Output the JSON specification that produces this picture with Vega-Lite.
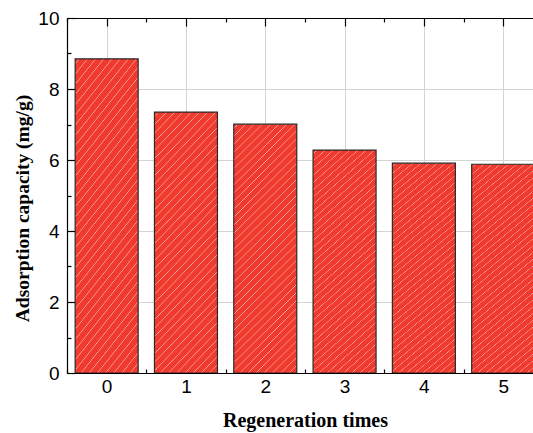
{
  "$schema": "https://vega.github.io/schema/vega-lite/v6.json",
  "width": 466,
  "height": 355,
  "autosize": {"type": "none"},
  "padding": {"left": 67, "top": 18, "right": 0, "bottom": 60},
  "background": "white",
  "view": {"stroke": null},
  "data": {
    "values": [
      {"t": 0, "c": 8.85},
      {"t": 1, "c": 7.35},
      {"t": 2, "c": 7.01},
      {"t": 3, "c": 6.28},
      {"t": 4, "c": 5.91},
      {"t": 5, "c": 5.88}
    ]
  },
  "config": {
    "axis": {
      "domainColor": "black",
      "domainWidth": 1.2,
      "tickColor": "black",
      "tickWidth": 1.2,
      "gridColor": "#d4d4d4",
      "gridWidth": 1,
      "labelFont": "Liberation Sans",
      "labelFontSize": 19,
      "labelColor": "black",
      "titleFont": "Liberation Serif",
      "titleFontWeight": "bold",
      "titleColor": "black"
    }
  },
  "resolve": {"axis": {"x": "independent"}},
  "layer": [
    {
      "mark": {
        "type": "bar",
        "width": 63,
        "stroke": "#2a2a2a",
        "strokeWidth": 1.2,
        "clip": true,
        "fill": {
          "gradient": "linear",
          "x1": 0, "y1": 0, "x2": 0.294, "y2": 1.176,
          "stops": [
            {"offset": 0, "color": "#ef3a2d"},
            {"offset": 0.0105, "color": "#ef3a2d"}, {"offset": 0.013, "color": "#f9aaa2"}, {"offset": 0.0155, "color": "#ef3a2d"},
            {"offset": 0.0365, "color": "#ef3a2d"}, {"offset": 0.039, "color": "#f9aaa2"}, {"offset": 0.0415, "color": "#ef3a2d"},
            {"offset": 0.0625, "color": "#ef3a2d"}, {"offset": 0.065, "color": "#f9aaa2"}, {"offset": 0.0675, "color": "#ef3a2d"},
            {"offset": 0.0885, "color": "#ef3a2d"}, {"offset": 0.091, "color": "#f9aaa2"}, {"offset": 0.0935, "color": "#ef3a2d"},
            {"offset": 0.1145, "color": "#ef3a2d"}, {"offset": 0.117, "color": "#f9aaa2"}, {"offset": 0.1195, "color": "#ef3a2d"},
            {"offset": 0.1405, "color": "#ef3a2d"}, {"offset": 0.143, "color": "#f9aaa2"}, {"offset": 0.1455, "color": "#ef3a2d"},
            {"offset": 0.1665, "color": "#ef3a2d"}, {"offset": 0.169, "color": "#f9aaa2"}, {"offset": 0.1715, "color": "#ef3a2d"},
            {"offset": 0.1925, "color": "#ef3a2d"}, {"offset": 0.195, "color": "#f9aaa2"}, {"offset": 0.1975, "color": "#ef3a2d"},
            {"offset": 0.2185, "color": "#ef3a2d"}, {"offset": 0.221, "color": "#f9aaa2"}, {"offset": 0.2235, "color": "#ef3a2d"},
            {"offset": 0.2445, "color": "#ef3a2d"}, {"offset": 0.247, "color": "#f9aaa2"}, {"offset": 0.2495, "color": "#ef3a2d"},
            {"offset": 0.2705, "color": "#ef3a2d"}, {"offset": 0.273, "color": "#f9aaa2"}, {"offset": 0.2755, "color": "#ef3a2d"},
            {"offset": 0.2965, "color": "#ef3a2d"}, {"offset": 0.299, "color": "#f9aaa2"}, {"offset": 0.3015, "color": "#ef3a2d"},
            {"offset": 0.3225, "color": "#ef3a2d"}, {"offset": 0.325, "color": "#f9aaa2"}, {"offset": 0.3275, "color": "#ef3a2d"},
            {"offset": 0.3485, "color": "#ef3a2d"}, {"offset": 0.351, "color": "#f9aaa2"}, {"offset": 0.3535, "color": "#ef3a2d"},
            {"offset": 0.3745, "color": "#ef3a2d"}, {"offset": 0.377, "color": "#f9aaa2"}, {"offset": 0.3795, "color": "#ef3a2d"},
            {"offset": 0.4005, "color": "#ef3a2d"}, {"offset": 0.403, "color": "#f9aaa2"}, {"offset": 0.4055, "color": "#ef3a2d"},
            {"offset": 0.4265, "color": "#ef3a2d"}, {"offset": 0.429, "color": "#f9aaa2"}, {"offset": 0.4315, "color": "#ef3a2d"},
            {"offset": 0.4525, "color": "#ef3a2d"}, {"offset": 0.455, "color": "#f9aaa2"}, {"offset": 0.4575, "color": "#ef3a2d"},
            {"offset": 0.4785, "color": "#ef3a2d"}, {"offset": 0.481, "color": "#f9aaa2"}, {"offset": 0.4835, "color": "#ef3a2d"},
            {"offset": 0.5045, "color": "#ef3a2d"}, {"offset": 0.507, "color": "#f9aaa2"}, {"offset": 0.5095, "color": "#ef3a2d"},
            {"offset": 0.5305, "color": "#ef3a2d"}, {"offset": 0.533, "color": "#f9aaa2"}, {"offset": 0.5355, "color": "#ef3a2d"},
            {"offset": 0.5565, "color": "#ef3a2d"}, {"offset": 0.559, "color": "#f9aaa2"}, {"offset": 0.5615, "color": "#ef3a2d"},
            {"offset": 0.5825, "color": "#ef3a2d"}, {"offset": 0.585, "color": "#f9aaa2"}, {"offset": 0.5875, "color": "#ef3a2d"},
            {"offset": 0.6085, "color": "#ef3a2d"}, {"offset": 0.611, "color": "#f9aaa2"}, {"offset": 0.6135, "color": "#ef3a2d"},
            {"offset": 0.6345, "color": "#ef3a2d"}, {"offset": 0.637, "color": "#f9aaa2"}, {"offset": 0.6395, "color": "#ef3a2d"},
            {"offset": 0.6605, "color": "#ef3a2d"}, {"offset": 0.663, "color": "#f9aaa2"}, {"offset": 0.6655, "color": "#ef3a2d"},
            {"offset": 0.6865, "color": "#ef3a2d"}, {"offset": 0.689, "color": "#f9aaa2"}, {"offset": 0.6915, "color": "#ef3a2d"},
            {"offset": 0.7125, "color": "#ef3a2d"}, {"offset": 0.715, "color": "#f9aaa2"}, {"offset": 0.7175, "color": "#ef3a2d"},
            {"offset": 0.7385, "color": "#ef3a2d"}, {"offset": 0.741, "color": "#f9aaa2"}, {"offset": 0.7435, "color": "#ef3a2d"},
            {"offset": 0.7645, "color": "#ef3a2d"}, {"offset": 0.767, "color": "#f9aaa2"}, {"offset": 0.7695, "color": "#ef3a2d"},
            {"offset": 0.7905, "color": "#ef3a2d"}, {"offset": 0.793, "color": "#f9aaa2"}, {"offset": 0.7955, "color": "#ef3a2d"},
            {"offset": 0.8165, "color": "#ef3a2d"}, {"offset": 0.819, "color": "#f9aaa2"}, {"offset": 0.8215, "color": "#ef3a2d"},
            {"offset": 0.8425, "color": "#ef3a2d"}, {"offset": 0.845, "color": "#f9aaa2"}, {"offset": 0.8475, "color": "#ef3a2d"},
            {"offset": 0.8685, "color": "#ef3a2d"}, {"offset": 0.871, "color": "#f9aaa2"}, {"offset": 0.8735, "color": "#ef3a2d"},
            {"offset": 0.8945, "color": "#ef3a2d"}, {"offset": 0.897, "color": "#f9aaa2"}, {"offset": 0.8995, "color": "#ef3a2d"},
            {"offset": 0.9205, "color": "#ef3a2d"}, {"offset": 0.923, "color": "#f9aaa2"}, {"offset": 0.9255, "color": "#ef3a2d"},
            {"offset": 0.9465, "color": "#ef3a2d"}, {"offset": 0.949, "color": "#f9aaa2"}, {"offset": 0.9515, "color": "#ef3a2d"},
            {"offset": 0.9725, "color": "#ef3a2d"}, {"offset": 0.975, "color": "#f9aaa2"}, {"offset": 0.9775, "color": "#ef3a2d"},
            {"offset": 1, "color": "#ef3a2d"}
          ]
        }
      },
      "encoding": {
        "x": {
          "field": "t",
          "type": "quantitative",
          "scale": {"domain": [-0.5, 5.376], "nice": false, "zero": false, "padding": 0},
          "axis": {
            "orient": "bottom",
            "title": "Regeneration times",
            "titleFontSize": 20,
            "titleX": 238,
            "titleY": 47,
            "titleBaseline": "middle",
            "values": [-0.5, 0, 0.5, 1, 1.5, 2, 2.5, 3, 3.5, 4, 4.5, 5],
            "labelExpr": "datum.value % 1 === 0 ? format(datum.value, 'd') : ''",
            "labelPadding": 12,
            "tickSize": {"condition": {"test": "datum.value % 1 === 0", "value": -8}, "value": -4},
            "grid": true,
            "gridOpacity": {"condition": {"test": "datum.value % 1 === 0", "value": 1}, "value": 0}
          }
        },
        "y": {
          "field": "c",
          "type": "quantitative",
          "scale": {"domain": [0, 10], "nice": false},
          "axis": {
            "title": "Adsorption capacity (mg/g)",
            "titleFontSize": 19.5,
            "titleY": 190,
            "titleX": -45,
            "titleAlign": "center",
            "titleAngle": -90,
            "titleBaseline": "middle",
            "values": [0, 1, 2, 3, 4, 5, 6, 7, 8, 9, 10],
            "labelExpr": "datum.value % 2 === 0 ? datum.label : ''",
            "labelPadding": 16,
            "tickSize": {"condition": {"test": "datum.value % 2 === 0", "value": -8}, "value": -4},
            "grid": true,
            "gridOpacity": {"condition": {"test": "datum.value % 2 === 0", "value": 1}, "value": 0}
          }
        }
      }
    },
    {
      "mark": {"type": "point", "opacity": 0},
      "encoding": {
        "x": {
          "field": "t",
          "type": "quantitative",
          "axis": {
            "orient": "top",
            "title": null,
            "values": [-0.5, 0, 0.5, 1, 1.5, 2, 2.5, 3, 3.5, 4, 4.5, 5],
            "labels": false,
            "grid": false,
            "tickSize": {"condition": {"test": "datum.value % 1 === 0", "value": -8}, "value": -4}
          }
        }
      }
    }
  ]
}
